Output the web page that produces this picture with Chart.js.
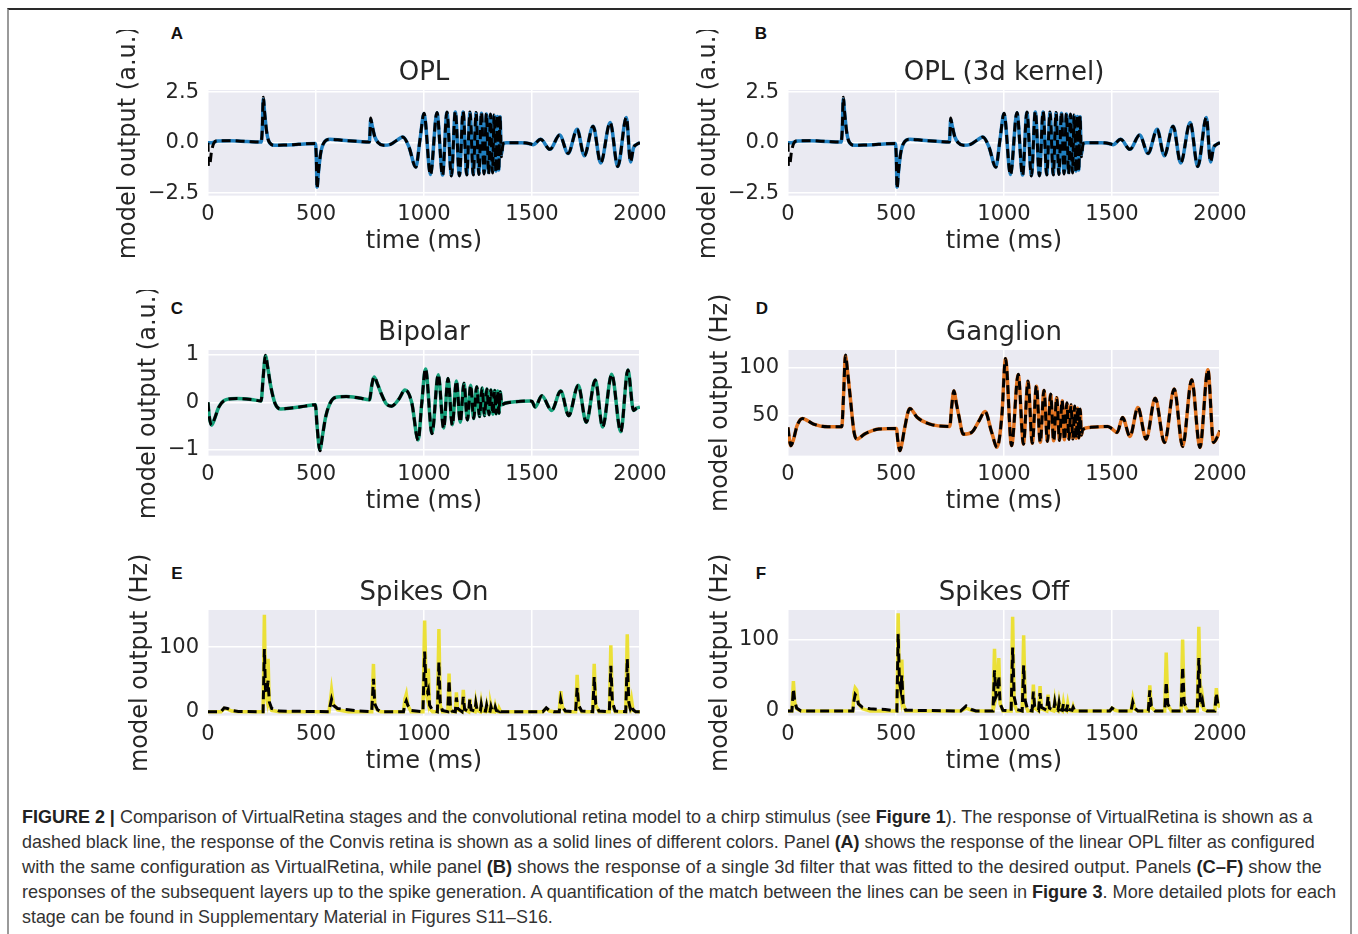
<!DOCTYPE html>
<html><head><meta charset="utf-8">
<script src="https://cdn.jsdelivr.net/npm/chart.js@4.4.1/dist/chart.umd.min.js"></script>
<style>
html,body{margin:0;padding:0;background:#fff;}
body{width:1358px;height:934px;position:relative;overflow:hidden;}
.frame{position:absolute;left:7px;top:8px;width:1341px;height:1000px;border-top:2px solid #2a2a2a;border-left:2px solid #9a9a9a;border-right:2px solid #9a9a9a;}
canvas{position:absolute;}
.letter{position:absolute;font-family:"Liberation Sans",Arial,sans-serif;font-weight:bold;font-size:17px;color:#111;transform:translate(-50%,-50%);}
.cap{position:absolute;left:22px;font-family:"Liberation Sans Narrow","Liberation Sans",sans-serif;font-size:18.5px;color:#333;white-space:nowrap;transform-origin:0 50%;line-height:20px;}
.cap b{color:#222;}
</style></head><body>
<div class="frame"></div>
<div class="letter" style="left:177px;top:34px">A</div>
<div class="letter" style="left:761px;top:34px">B</div>
<div class="letter" style="left:177px;top:309px">C</div>
<div class="letter" style="left:762px;top:309px">D</div>
<div class="letter" style="left:177px;top:574px">E</div>
<div class="letter" style="left:761px;top:574px">F</div>
<canvas id="cA"></canvas><canvas id="cB"></canvas><canvas id="cC"></canvas>
<canvas id="cD"></canvas><canvas id="cE"></canvas><canvas id="cF"></canvas>
<div class="cap" data-w="1291" style="top:807px"><b>FIGURE 2 |</b> Comparison of VirtualRetina stages and the convolutional retina model to a chirp stimulus (see <b>Figure 1</b>). The response of VirtualRetina is shown as a</div>
<div class="cap" data-w="1293" style="top:832px">dashed black line, the response of the Convis retina is shown as a solid lines of different colors. Panel <b>(A)</b> shows the response of the linear OPL filter as configured</div>
<div class="cap" data-w="1300" style="top:857px">with the same configuration as VirtualRetina, while panel <b>(B)</b> shows the response of a single 3d filter that was fitted to the desired output. Panels <b>(C–F)</b> show the</div>
<div class="cap" data-w="1314" style="top:882px">responses of the subsequent layers up to the spike generation. A quantification of the match between the lines can be seen in <b>Figure 3</b>. More detailed plots for each</div>
<div class="cap" data-w="531" style="top:907px">stage can be found in Supplementary Material in Figures S11–S16.</div>
<script>
// ---------- DATA ----------
const timeTicks = [0, 500, 1000, 1500, 2000];
const timeTickLabels = ['0', '500', '1000', '1500', '2000'];
const oplTicks = [-2.5, 0, 2.5];
const oplTickLabels = ['\u22122.5', '0.0', '2.5'];
const bipolarTicks = [-1, 0, 1];
const bipolarTickLabels = ['\u22121', '0', '1'];
const ganglionTicks = [50, 100];
const ganglionTickLabels = ['50', '100'];
const spikeTicks = [0, 100];
const spikeTickLabels = ['0', '100'];

// OPL (panels A and B)
const oplTime = [0,2,8,16,28,45,100,180,246,251,256,262,272,285,310,350,420,497,501,505,511,522,540,565,620,700,747,750,753,760,772,788,812,845,875,902,930,962,982,1000,1030,1060,1086,1106,1127,1145,1164,1181,1198,1213,1228,1241,1254,1266,1278,1289,1299,1308,1317,1325,1333,1340,1346,1352,1358,1366,1380,1450,1490,1505,1540,1583,1628,1667,1709,1742,1783,1818,1862,1897,1937,1956,1970,1985,2000];
const oplVirtualRetina = [0,-1.15,-1.1,-0.45,0.0,0.1,0.1,0.06,0.03,0.6,2.25,1.5,0.5,0.0,-0.13,-0.12,-0.08,-0.04,-0.6,-2.27,-1.5,-0.5,0.05,0.17,0.12,0.06,0.03,0.5,1.22,0.85,0.3,0.0,-0.13,-0.08,0.12,0.28,-0.2,-1.22,0.2,1.46,-1.6,1.5,-1.63,1.52,-1.65,1.55,-1.65,1.55,-1.6,1.52,-1.6,1.5,-1.58,1.5,-1.55,1.45,-1.55,1.42,-1.5,1.38,-1.45,1.35,-1.4,1.32,-0.7,-0.05,0.0,0.0,-0.05,-0.1,0.17,-0.33,0.38,-0.53,0.66,-0.65,0.82,-1.0,1.0,-1.18,1.25,-0.95,-0.25,-0.08,0.0];
const oplConvis = [0,0,0,0,0.03,0.08,0.1,0.06,0.03,0.6,2.15,1.5,0.5,0.0,-0.13,-0.12,-0.08,-0.04,-0.6,-2.2,-1.5,-0.5,0.05,0.17,0.12,0.06,0.03,0.5,1.15,0.85,0.3,0.0,-0.13,-0.08,0.12,0.28,-0.2,-1.2,0.2,1.44,-1.58,1.48,-1.6,1.5,-1.62,1.52,-1.62,1.52,-1.58,1.5,-1.56,1.47,-1.54,1.46,-1.5,1.42,-1.48,1.38,-1.44,1.34,-1.4,1.3,-1.35,1.28,-0.6,-0.05,0.0,0.0,-0.05,-0.1,0.17,-0.33,0.38,-0.53,0.66,-0.65,0.82,-1.0,1.0,-1.18,1.25,-0.95,-0.25,-0.08,0.0];

// Bipolar (panel C)
const bipolarTime = [0,6,17,30,50,84,135,200,246,255,266,276,290,311,337,387,450,497,505,518,530,545,564,589,640,700,748,758,769,785,805,825,850,884,912,943,973,990,1007,1037,1066,1091,1111,1131,1150,1168,1185,1201,1216,1230,1244,1257,1269,1280,1291,1301,1310,1319,1327,1334,1341,1347,1353,1360,1375,1420,1490,1500,1515,1545,1591,1633,1670,1714,1751,1793,1827,1869,1911,1944,1970,1985,2000];
const bipolarVirtualRetina = [0,-0.3,-0.48,-0.35,-0.1,0.055,0.08,0.06,0.03,0.5,0.99,0.75,0.35,-0.03,-0.14,-0.12,-0.08,-0.05,-0.5,-1.02,-0.7,-0.3,-0.03,0.1,0.12,0.09,0.055,0.35,0.54,0.38,0.15,-0.03,-0.08,0.07,0.26,0.0,-0.8,0.0,0.71,-0.66,0.59,-0.55,0.5,-0.48,0.45,-0.42,0.4,-0.37,0.36,-0.34,0.33,-0.3,0.3,-0.28,0.28,-0.26,0.26,-0.25,0.25,-0.24,0.24,-0.23,0.22,-0.05,-0.02,0.01,0.03,0.02,-0.1,0.14,-0.17,0.24,-0.28,0.36,-0.42,0.47,-0.52,0.59,-0.62,0.68,-0.17,-0.12,-0.1];
const bipolarConvis = [0,-0.3,-0.48,-0.35,-0.1,0.055,0.08,0.06,0.03,0.5,0.98,0.75,0.35,-0.03,-0.14,-0.12,-0.08,-0.05,-0.5,-1.0,-0.7,-0.3,-0.03,0.1,0.12,0.09,0.055,0.35,0.53,0.38,0.15,-0.03,-0.08,0.07,0.26,0.0,-0.79,0.0,0.7,-0.65,0.58,-0.54,0.5,-0.47,0.45,-0.42,0.4,-0.37,0.36,-0.34,0.33,-0.3,0.3,-0.28,0.28,-0.26,0.26,-0.25,0.25,-0.24,0.24,-0.23,0.22,-0.05,-0.02,0.01,0.03,0.02,-0.1,0.14,-0.17,0.24,-0.28,0.36,-0.42,0.47,-0.52,0.59,-0.62,0.68,-0.17,-0.12,-0.1];

// Ganglion (panel D)
const ganglionTime = [0,5,13,25,42,67,90,118,185,249,257,266,276,286,306,320,354,421,502,508,518,528,539,564,598,657,749,758,768,780,791,811,850,885,912,943,968,990,1007,1035,1066,1090,1111,1131,1150,1168,1185,1201,1216,1230,1244,1257,1269,1280,1291,1301,1310,1319,1327,1334,1341,1347,1353,1358,1364,1397,1481,1498,1524,1549,1583,1620,1658,1700,1743,1788,1827,1869,1907,1944,1970,2000];
const ganglionVirtualRetina = [38,28,19,25,39.7,47.2,45,41.4,38.6,38.6,70,112.8,95,74,32.8,25.9,31,36.2,36.9,25,13.8,22,36,57.6,48.3,41.4,39,60,75.9,62,50,31,32.8,45,54.5,32.8,17.2,50,109.3,19,93,20.5,86,21.5,81,22.5,76.5,23.5,72.5,24,69,24.5,66,25,63.5,25.5,61.5,26,60,26.5,58.5,27,57,30,35.5,37.9,39,36.9,32.8,48.3,28.6,58.6,25.9,68,22.4,77.6,18.3,87.2,17.2,97.6,22.4,34.5];
const ganglionConvis = [38,28,19,25,39.7,47.2,45,41.4,38.6,38.6,70,112,95,74,32.8,25.9,31,36.2,36.9,25,14,22,36,57.6,48.3,41.4,39,60,75.5,62,50,31,32.8,45,54.5,32.8,17.5,50,109,19.2,92.5,20.7,85.5,21.7,80.5,22.7,76,23.7,72,24.2,68.5,24.7,65.5,25.2,63,25.7,61,26.2,59.5,26.7,58,27.2,56.5,30,35.5,37.9,39,36.9,32.8,48.3,28.6,58.6,25.9,68,22.4,77.6,18.3,87.2,17.2,97.6,22.4,34.5];

// Spikes On (panel E)
const spikesOnTime = [0,60,75,90,110,140,255,261,266,272,278,284,295,330,560,566,572,580,600,650,700,758,766,772,785,800,905,912,918,925,940,995,1003,1010,1016,1020,1026,1040,1062,1069,1075,1085,1110,1116,1122,1130,1145,1150,1156,1176,1182,1188,1207,1212,1218,1236,1240,1246,1261,1265,1270,1285,1290,1295,1306,1310,1315,1326,1330,1335,1345,1348,1355,1550,1566,1580,1600,1626,1633,1640,1655,1702,1709,1716,1730,1781,1788,1795,1810,1858,1865,1872,1885,1934,1941,1948,1955,1961,1968,1980,2000];
const spikesOnConvis = [0,0,5,4,1,0,0,150,30,20,82,10,2,0,0,15,33,12,3,0,0,0,74,10,2,0,0,20,27,10,0,0,141,30,20,67,5,0,0,128,10,0,0,59,5,0,0,30,3,0,34,3,0,20,2,0,14,2,0,12,1,0,10,1,0,9,1,0,8,1,0,5,0,0,5,1,0,0,32,8,0,0,57,8,0,0,74,10,0,0,103,10,0,0,120,10,5,18,2,0,0];
const spikesOnVirtualRetina = [0,0,6,5,2,0.5,0,97,35,30,48,15,5,1,0,10,19.5,10,5,3,1,0,51,12,3,0,0,12,17,10,2,0,93,35,30,34,10,2,0,77,15,2,0,49,8,1,0,22,5,0,23,4,0,19,3,1,13,2,1,11,2,1,10,2,1,8,2,1,7,2,1,5,0,0,6,2,0,0,19,8,1,0,37,10,1,0,54,12,1,0,71,15,1,0,82,15,5,10,3,0,0];

// Spikes Off (panel F)
const spikesOffTime = [0,18,25,31,40,60,300,306,311,318,326,345,380,450,504,510,516,522,527,533,545,800,825,850,870,949,956,963,970,976,982,995,1033,1040,1047,1060,1084,1091,1098,1110,1130,1136,1142,1160,1167,1173,1198,1204,1210,1230,1235,1240,1250,1255,1260,1270,1275,1280,1290,1295,1300,1315,1320,1326,1340,1490,1500,1515,1530,1588,1596,1604,1620,1668,1675,1682,1700,1744,1751,1758,1775,1820,1827,1834,1850,1895,1902,1909,1914,1919,1925,1940,1976,1983,1990,2000];
const spikesOffConvis = [0,0,42,12,3,0,0,25,32,29,10,3,0,0,0,137,30,20,72,10,0,0,4,1,0,0,87,20,30,74,10,0,0,132,10,0,0,106,10,0,0,37,4,0,35,3,0,23,2,0,13,2,0,12,2,0,11,2,0,10,1,0,6,0,0,0,4,1,0,0,16,3,0,0,36,5,0,0,82,8,0,0,100,8,0,0,118,10,8,18,2,0,0,32,10,5];
const spikesOffVirtualRetina = [0,0,31,14,4,0,0,15,23,20,10,5,3,2,0,108,40,30,50,10,1,0,7,2,0,0,57,20,25,49,10,1,0,89,20,2,0,64,15,1,0,27,6,1,25,5,1,20,4,1,12,3,1,11,2,1,10,2,1,9,2,1,5,1,0,0,4,1,0,0,12,4,0,0,29,7,0,0,41,10,0,0,62,12,0,0,74,14,8,14,3,0,0,25,10,5];

// ---------- DRAWING ----------
Chart.defaults.font.family = 'DejaVu Sans';
const TEXT = '#262626';
const bgPlugin = {
  id: 'plotBg',
  beforeDraw(chart) {
    const a = chart.chartArea, c = chart.ctx;
    c.save(); c.fillStyle = '#EAEAF2'; c.fillRect(a.left, a.top, a.right - a.left, a.bottom - a.top); c.restore();
  }
};
function pts(t, v) { return t.map((x, i) => ({x: x, y: v[i]})); }

function makePanel(p) {
  const PW = 432, PH = 106, TOP = 60, XH = 60.4, BOT = 10, RIGHT = 40;
  const cv = document.getElementById(p.id);
  const w = p.yw + PW + RIGHT, h = TOP + PH + XH + BOT;
  cv.width = w; cv.height = h;
  cv.style.left = (p.left - p.yw) + 'px';
  cv.style.top = (p.top - TOP) + 'px';
  cv.style.width = w + 'px'; cv.style.height = h + 'px';
  const titleH = 26 * 1.2 + 1;
  new Chart(cv.getContext('2d'), {
    type: 'line',
    data: { datasets: [
      { data: pts(p.time, p.vr), borderColor: '#000', borderWidth: 3, borderDash: [9, 5], pointRadius: 0,
        cubicInterpolationMode: p.smooth ? 'monotone' : 'default', tension: 0, fill: false },
      { data: pts(p.time, p.convis), borderColor: p.color, borderWidth: 3.5, pointRadius: 0,
        cubicInterpolationMode: p.smooth ? 'monotone' : 'default', tension: 0, fill: false }
    ]},
    options: {
      responsive: false, animation: false, devicePixelRatio: 1,
      layout: { padding: { left: 0, top: TOP - titleH, right: RIGHT, bottom: BOT } },
      plugins: {
        legend: { display: false }, tooltip: { enabled: false },
        title: { display: true, text: p.title, fullSize: false, color: TEXT,
                 font: { size: 26, weight: 'normal' }, padding: { top: 0, bottom: 1 } }
      },
      scales: {
        x: {
          type: 'linear', min: 0, max: 2000,
          afterBuildTicks: s => { s.ticks = timeTicks.map(v => ({value: v})); },
          afterFit: s => { s.height = XH; },
          ticks: { callback: v => timeTickLabels[timeTicks.indexOf(v)], color: TEXT, font: { size: 21 }, padding: 6, maxRotation: 0, autoSkip: false },
          grid: { color: '#ffffff', lineWidth: 1.5, drawTicks: false, tickLength: 0 },
          border: { display: false },
          title: { display: true, text: 'time (ms)', color: TEXT, font: { size: 24 }, padding: 0 }
        },
        y: {
          type: 'linear', min: p.ymin, max: p.ymax,
          afterBuildTicks: s => { s.ticks = p.ticks.map(v => ({value: v})); },
          afterFit: s => { s.width = p.yw; },
          ticks: { callback: v => p.tickLabels[p.ticks.indexOf(v)], color: TEXT, font: { size: 21 }, padding: 9, autoSkip: false },
          grid: { color: '#ffffff', lineWidth: 1.5, drawTicks: false, tickLength: 0 },
          border: { display: false },
          title: { display: true, text: p.ylabel, color: TEXT, font: { size: 24 }, padding: 0 }
        }
      }
    },
    plugins: [bgPlugin]
  });
}

const panels = [
  { id: 'cA', left: 208, top: 90, yw: 94, title: 'OPL', ylabel: 'model output (a.u.)', time: oplTime, vr: oplVirtualRetina, convis: oplConvis, color: '#1f7fc0', ymin: -2.62, ymax: 2.61, ticks: oplTicks, tickLabels: oplTickLabels, smooth: true },
  { id: 'cB', left: 788, top: 90, yw: 94, title: 'OPL (3d kernel)', ylabel: 'model output (a.u.)', time: oplTime, vr: oplVirtualRetina, convis: oplConvis, color: '#1f7fc0', ymin: -2.62, ymax: 2.61, ticks: oplTicks, tickLabels: oplTickLabels, smooth: true },
  { id: 'cC', left: 208, top: 350, yw: 74, title: 'Bipolar', ylabel: 'model output (a.u.)', time: bipolarTime, vr: bipolarVirtualRetina, convis: bipolarConvis, color: '#14a07a', ymin: -1.12, ymax: 1.1, ticks: bipolarTicks, tickLabels: bipolarTickLabels, smooth: true },
  { id: 'cD', left: 788, top: 350, yw: 82, title: 'Ganglion', ylabel: 'model output (Hz)', time: ganglionTime, vr: ganglionVirtualRetina, convis: ganglionConvis, color: '#e2721e', ymin: 8.8, ymax: 118, ticks: ganglionTicks, tickLabels: ganglionTickLabels, smooth: true },
  { id: 'cE', left: 208, top: 610, yw: 82, title: 'Spikes On', ylabel: 'model output (Hz)', time: spikesOnTime, vr: spikesOnVirtualRetina, convis: spikesOnConvis, color: '#ebe037', ymin: -6, ymax: 157.5, ticks: spikeTicks, tickLabels: spikeTickLabels, smooth: false },
  { id: 'cF', left: 788, top: 610, yw: 82, title: 'Spikes Off', ylabel: 'model output (Hz)', time: spikesOffTime, vr: spikesOffVirtualRetina, convis: spikesOffConvis, color: '#ebe037', ymin: -6.5, ymax: 141.5, ticks: spikeTicks, tickLabels: spikeTickLabels, smooth: false }
];
panels.forEach(makePanel);

document.querySelectorAll('.cap').forEach(el => {
  const w = el.offsetWidth, tw = +el.dataset.w;
  if (w > 0) el.style.transform = 'scaleX(' + (tw / w) + ')';
});
</script>
</body></html>
